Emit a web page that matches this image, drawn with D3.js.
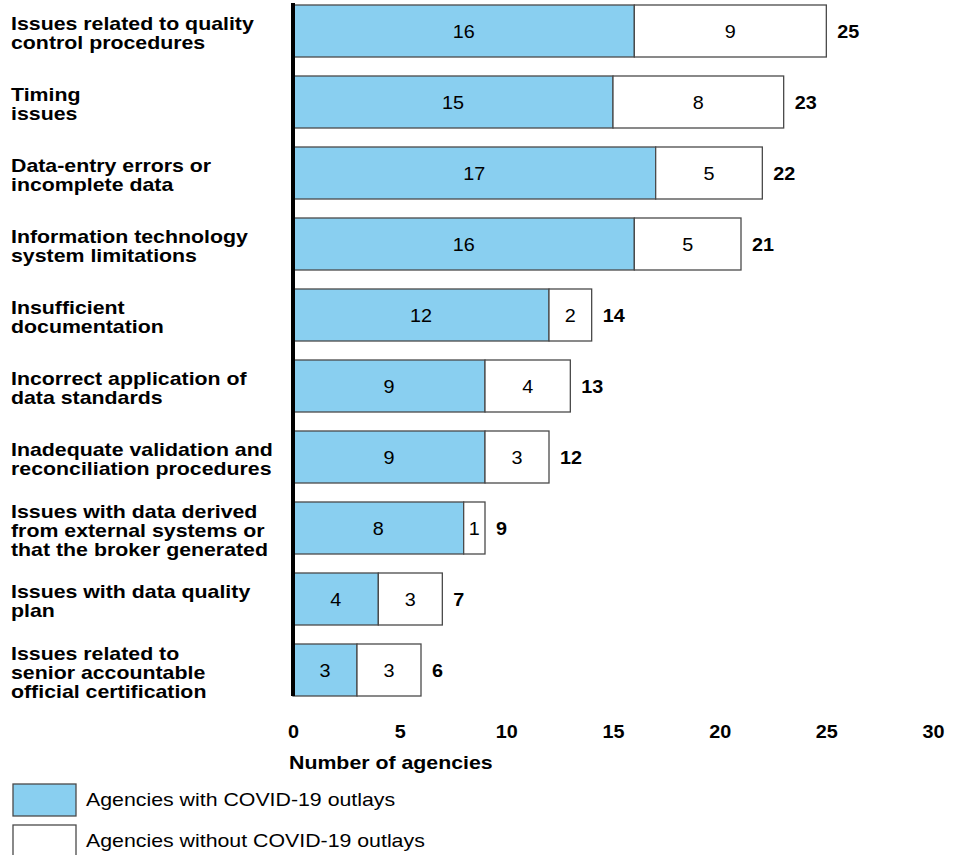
<!DOCTYPE html>
<html>
<head>
<meta charset="utf-8">
<script src="https://cdn.jsdelivr.net/npm/d3@7"></script>
<style>
  body { margin: 0; background: #fff; }
  text { font-family: "Liberation Sans", Arial, sans-serif; }
</style>
</head>
<body>
<svg width="962" height="855"></svg>
<script>
var categories = [
    ["Issues related to quality", "control procedures"],
    ["Timing", "issues"],
    ["Data-entry errors or", "incomplete data"],
    ["Information technology", "system limitations"],
    ["Insufficient", "documentation"],
    ["Incorrect application of", "data standards"],
    ["Inadequate validation and", "reconciliation procedures"],
    ["Issues with data derived", "from external systems or", "that the broker generated"],
    ["Issues with data quality", "plan"],
    ["Issues related to", "senior accountable", "official certification"]
];
var withCovid = [16, 15, 17, 16, 12, 9, 9, 8, 4, 3];
var withoutCovid = [9, 8, 5, 5, 2, 4, 3, 1, 3, 3];
var xTicks = [0, 5, 10, 15, 20, 25, 30];
var legendLabels = ["Agencies with COVID-19 outlays", "Agencies without COVID-19 outlays"];

var blue = "#89cff0",
    edge = "#4a4a4a",
    stretch = 1.185,
    numStretch = 1.1;

var svg = d3.select("svg");

var x = d3.scaleLinear().domain([0, 30]).range([293, 933]);
var y = d3.scaleBand()
    .domain(d3.range(categories.length))
    .range([-4.5, 705.5])
    .paddingInner(19 / 71)
    .paddingOuter(9.5 / 71);

function mid(i) { return y(i) + y.bandwidth() / 2; }

var rows = svg.append("g").selectAll("g")
    .data(categories)
    .join("g");

// category labels, drawn a bit wider like the original
rows.append("text")
    .attr("transform", function(d, i) { return "translate(11," + (mid(i) + 2.5) + ") scale(" + stretch + ",1)"; })
    .attr("font-weight", "bold")
    .attr("font-size", "18px")
    .attr("fill", "#000")
    .each(function(lines) {
        var lh = 19;
        var start = -(lines.length - 1) * lh / 2;
        d3.select(this).selectAll("tspan")
            .data(lines)
            .join("tspan")
            .attr("x", 0)
            .attr("y", function(d, j) { return start + j * lh; })
            .attr("dy", "0.35em")
            .text(function(d) { return d; });
    });

// with covid segment
rows.append("rect")
    .attr("x", x(0))
    .attr("y", function(d, i) { return y(i); })
    .attr("width", function(d, i) { return x(withCovid[i]) - x(0); })
    .attr("height", y.bandwidth())
    .attr("fill", blue)
    .attr("stroke", edge)
    .attr("stroke-width", 1.3);

// without covid segment
rows.append("rect")
    .attr("x", function(d, i) { return x(withCovid[i]); })
    .attr("y", function(d, i) { return y(i); })
    .attr("width", function(d, i) { return x(withCovid[i] + withoutCovid[i]) - x(withCovid[i]); })
    .attr("height", y.bandwidth())
    .attr("fill", "#fff")
    .attr("stroke", edge)
    .attr("stroke-width", 1.3);

rows.append("text")
    .attr("transform", function(d, i) {
        return "translate(" + (x(0) + x(withCovid[i])) / 2 + "," + (mid(i) + 1) + ") scale(" + numStretch + ",1)";
    })
    .attr("dy", "0.35em")
    .attr("text-anchor", "middle")
    .attr("font-size", "18px")
    .text(function(d, i) { return withCovid[i]; });

rows.append("text")
    .attr("transform", function(d, i) {
        return "translate(" + (x(withCovid[i]) + x(withCovid[i] + withoutCovid[i])) / 2 + "," + (mid(i) + 1) + ") scale(" + numStretch + ",1)";
    })
    .attr("dy", "0.35em")
    .attr("text-anchor", "middle")
    .attr("font-size", "18px")
    .text(function(d, i) { return withoutCovid[i]; });

// totals
rows.append("text")
    .attr("transform", function(d, i) {
        return "translate(" + (x(withCovid[i] + withoutCovid[i]) + 11) + "," + (mid(i) + 1) + ") scale(" + numStretch + ",1)";
    })
    .attr("dy", "0.35em")
    .attr("font-weight", "bold")
    .attr("font-size", "18px")
    .text(function(d, i) { return withCovid[i] + withoutCovid[i]; });

// y axis line
svg.append("line")
    .attr("x1", x(0)).attr("x2", x(0))
    .attr("y1", 3).attr("y2", 696)
    .attr("stroke", "#000")
    .attr("stroke-width", 4);

// x axis
var xAxis = svg.append("g")
    .attr("transform", "translate(0,722)")
    .call(d3.axisBottom(x).tickValues(xTicks).tickSize(0));
xAxis.select(".domain").remove();
xAxis.selectAll("text")
    .attr("font-family", "'Liberation Sans', Arial, sans-serif")
    .attr("font-size", "18px")
    .attr("font-weight", "bold")
    .attr("fill", "#000")
    .attr("transform", "scale(" + numStretch + ",1)");

svg.append("text")
    .attr("transform", "translate(289,763) scale(" + stretch + ",1)")
    .attr("dy", "0.35em")
    .attr("font-weight", "bold")
    .attr("font-size", "18px")
    .text("Number of agencies");

// legend
var legend = svg.append("g").selectAll("g")
    .data(legendLabels)
    .join("g")
    .attr("transform", function(d, i) { return "translate(13," + (784 + i * 41) + ")"; });

legend.append("rect")
    .attr("width", 63)
    .attr("height", 32)
    .attr("fill", function(d, i) { return i === 0 ? blue : "#fff"; })
    .attr("stroke", edge)
    .attr("stroke-width", 1.3);

legend.append("text")
    .attr("transform", "translate(73,16) scale(" + stretch + ",1)")
    .attr("dy", "0.35em")
    .attr("font-size", "18px")
    .text(function(d) { return d; });
</script>
</body>
</html>
